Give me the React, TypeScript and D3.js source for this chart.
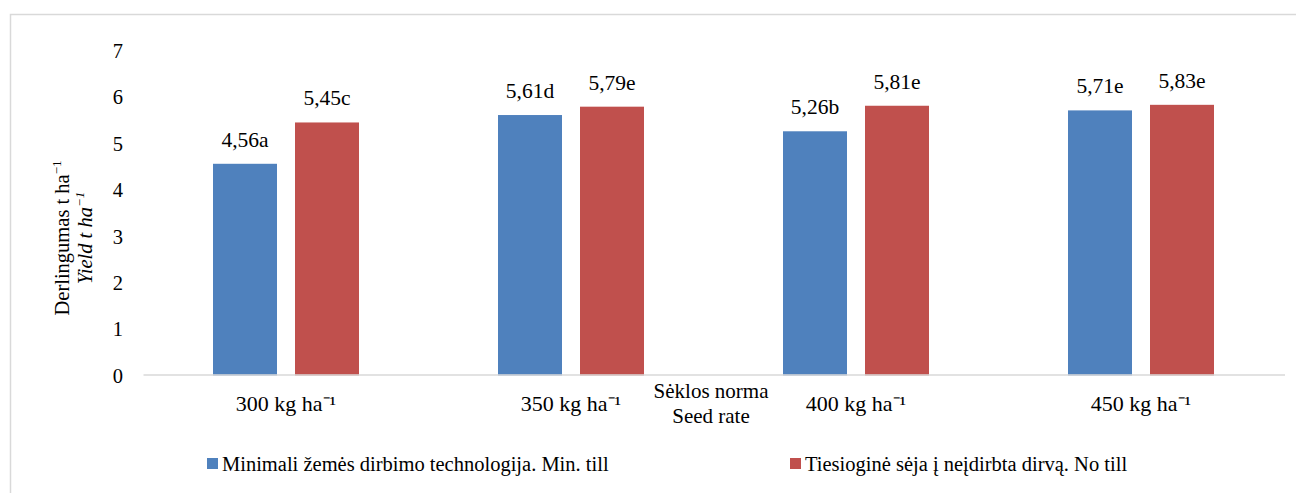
import React from "react";
import * as d3 from "d3";

const categories = ["300 kg ha⁻¹", "350 kg ha⁻¹", "400 kg ha⁻¹", "450 kg ha⁻¹"];
const seriesNames = [
  "Minimali žemės dirbimo technologija. Min. till",
  "Tiesioginė sėja į neįdirbta dirvą. No till",
];
const minTill = [4.56, 5.61, 5.26, 5.71];
const noTill = [5.45, 5.79, 5.81, 5.83];
const minTillLetters = ["a", "d", "b", "e"];
const noTillLetters = ["c", "e", "e", "e"];
const yTicks = [0, 1, 2, 3, 4, 5, 6, 7];
const colors = ["#4F81BD", "#C0504D"];

const W = 1296;
const H = 493;
const FONT = '"Liberation Serif", "Times New Roman", serif';

export default function App() {
  const x = d3.scaleBand<string>().domain(categories).range([143.5, 1283.5]).paddingInner(0).paddingOuter(0);
  const xs = d3
    .scaleBand<string>()
    .domain(["0", "1"])
    .range([69.5, 215.5])
    .paddingInner(0.2195)
    .paddingOuter(0);
  const y = d3.scaleLinear().domain([0, 7]).range([375.5, 50.5]);
  const series = [
    { values: minTill, letters: minTillLetters },
    { values: noTill, letters: noTillLetters },
  ];
  const fmt = (v: number) => v.toFixed(2).replace(".", ",");
  const ts = { fontFamily: FONT };

  return (
    <svg
      width={W}
      height={H}
      style={{ position: "fixed", left: 0, top: 0, background: "#fff" }}
    >
      <rect x={10.5} y={14.5} width={W} height={H} fill="#fff" stroke="#d9d9d9" strokeWidth={1.5} />
      {yTicks.map((t) => (
        <text key={t} x={123} y={y(t)} dy="0.36em" textAnchor="end" fontSize={20.5} fill="#000" style={ts}>
          {t}
        </text>
      ))}
      {categories.map((c, i) => (
        <g key={c} transform={`translate(${x(c)},0)`}>
          {series.map((s, j) => {
            const bx = xs(String(j))!;
            const bw = xs.bandwidth();
            return (
              <g key={j}>
                <rect x={bx} y={y(s.values[i])} width={bw} height={y(0) - y(s.values[i])} fill={colors[j]} />
                <text x={bx + bw / 2} y={y(s.values[i]) - 17} textAnchor="middle" fontSize={21.5} fill="#000" style={ts}>
                  {fmt(s.values[i]) + s.letters[i]}
                </text>
              </g>
            );
          })}
          <text x={x.bandwidth() / 2} y={411} textAnchor="middle" fontSize={22} fill="#000" style={ts}>
            {c}
          </text>
        </g>
      ))}
      <line x1={143.5} x2={1285} y1={375} y2={375} stroke="#d9d9d9" strokeWidth={1.5} />
      <text x={711} y={398} textAnchor="middle" fontSize={21} fill="#000" style={ts}>Sėklos norma</text>
      <text x={711} y={423} textAnchor="middle" fontSize={21} fill="#000" style={ts}>Seed rate</text>
      <g transform="translate(69,238) rotate(-90)">
        <text x={0} y={0} textAnchor="middle" fontSize={20.5} fill="#000" style={ts}>
          Derlingumas t ha<tspan dy={-8} fontSize={13}>−1</tspan>
        </text>
        <text x={0} y={23} textAnchor="middle" fontSize={20.5} fontStyle="italic" fill="#000" style={ts}>
          Yield t ha<tspan dy={-8} fontSize={13}>−1</tspan>
        </text>
      </g>
      {seriesNames.map((n, j) => {
        const lx = j === 0 ? 207 : 790;
        return (
          <g key={n}>
            <rect x={lx} y={458} width={11} height={11} fill={colors[j]} />
            <text x={lx + 15} y={471} fontSize={20.5} fill="#000" style={ts}>
              {n}
            </text>
          </g>
        );
      })}
    </svg>
  );
}
